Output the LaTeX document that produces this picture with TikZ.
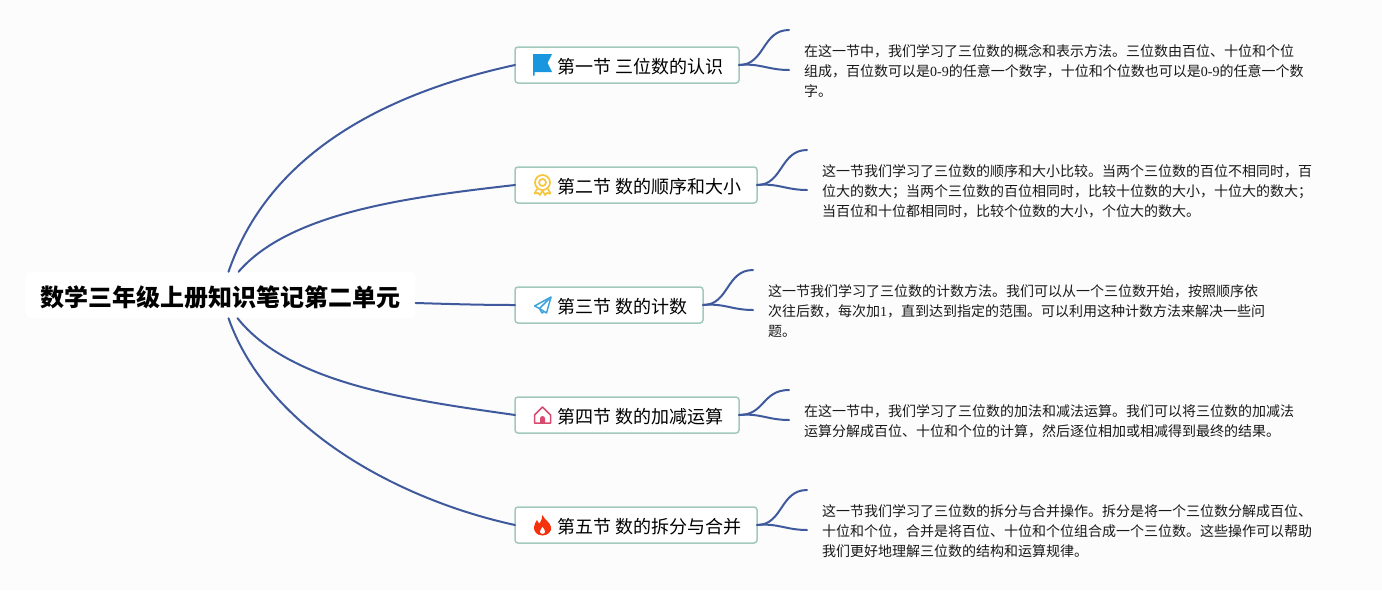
\documentclass[tikz,border=0pt]{standalone}
\usepackage{fontspec}
\setmainfont{Noto Sans CJK SC}
\newfontfamily\serifdigit{Liberation Serif}
\definecolor{bgcol}{HTML}{FCFCFD}
\definecolor{linecol}{HTML}{3F5A9C}
\definecolor{boxcol}{HTML}{A3C9BF}
\definecolor{flagcol}{HTML}{1A96DE}
\definecolor{medalcol}{HTML}{F7C53C}
\definecolor{planecol}{HTML}{3FA5DC}
\definecolor{housecol}{HTML}{D94A70}
\definecolor{flamecol}{HTML}{F5320C}
\tikzset{
  rootbox/.style={fill=white,rounded corners=6pt,minimum width=390pt,minimum height=46pt,inner sep=0pt,text height=22pt,text depth=0pt,font=\fontsize{24}{28}\selectfont\bfseries},
  secbox/.style={draw=boxcol,line width=1.5pt,fill=white,rounded corners=3pt,anchor=west,outer sep=0pt,minimum height=36pt,inner xsep=16pt,inner ysep=0pt,text height=16.5pt,text depth=0pt,font=\fontsize{18}{22}\selectfont},
  notetext/.style={anchor=west,align=left,inner sep=0pt,text=black!90,font=\fontsize{14}{20}\selectfont},
  link/.style={draw=linecol,line width=2pt,line cap=round},
}
\begin{document}
\begin{tikzpicture}[x=1pt,y=-1pt]
% 背景
\fill[bgcol] (0,0) rectangle (1382,590);
\useasboundingbox (0,0) rectangle (1382,590);
% 中心主题
\node[rootbox] (root) at (220.5,295) {数学三年级上册知识笔记第二单元};
% 五个小节
\node[secbox] (sec1) at (515,65) {\hspace*{26pt}第一节 三位数的认识};
\node[secbox] (sec2) at (515,185) {\hspace*{26pt}第二节 数的顺序和大小};
\node[secbox] (sec3) at (515,305) {\hspace*{26pt}第三节 数的计数};
\node[secbox] (sec4) at (515,415) {\hspace*{26pt}第四节 数的加减运算};
\node[secbox] (sec5) at (515,525) {\hspace*{26pt}第五节 数的拆分与合并};
% 说明文字
\node[notetext] (note1) at (804,71.2) {在这一节中，我们学习了三位数的概念和表示方法。三位数由百位、十位和个位\\组成，百位数可以是{\serifdigit 0-9}的任意一个数字，十位和个位数也可以是{\serifdigit 0-9}的任意一个数\\字。};
\node[notetext] (note2) at (822,191.2) {这一节我们学习了三位数的顺序和大小比较。当两个三位数的百位不相同时，百\\位大的数大；当两个三位数的百位相同时，比较十位数的大小，十位大的数大；\\当百位和十位都相同时，比较个位数的大小，个位大的数大。};
\node[notetext] (note3) at (768,311.2) {这一节我们学习了三位数的计数方法。我们可以从一个三位数开始，按照顺序依\\次往后数，每次加{\serifdigit 1}，直到达到指定的范围。可以利用这种计数方法来解决一些问\\题。};
\node[notetext] (note4) at (804,421.2) {在这一节中，我们学习了三位数的加法和减法运算。我们可以将三位数的加减法\\运算分解成百位、十位和个位的计算，然后逐位相加或相减得到最终的结果。};
\node[notetext] (note5) at (822,531.2) {这一节我们学习了三位数的拆分与合并操作。拆分是将一个三位数分解成百位、\\十位和个位，合并是将百位、十位和个位组合成一个三位数。这些操作可以帮助\\我们更好地理解三位数的结构和运算规律。};
% 中心到小节
\coordinate (rootA) at ([xshift=8pt]root.north);
\coordinate (rootB) at ([xshift=18pt]root.north);
\coordinate (rootC) at ([xshift=17pt]root.south);
\coordinate (rootD) at ([xshift=8pt]root.south);
\draw[link] (rootA) .. controls (272,145) and (400,90) .. (sec1.west);
\draw[link] (rootB) .. controls (290,212) and (410,197) .. (sec2.west);
\draw[link] (root.east) ++(0,8) .. controls (450,304) and (480,305) .. (sec3.west);
\draw[link] (rootC) .. controls (290,384) and (410,400) .. (sec4.west);
\draw[link] (rootD) .. controls (268,430) and (400,500) .. (sec5.west);
% 小节到说明
\coordinate (top1) at (789,30);
\coordinate (low1) at (789,70);
\draw[link] (sec1.east) .. controls (765,65) and (762,30) .. (top1);
\draw[link] (sec1.east) .. controls (760,63) and (768,70) .. (low1);
\coordinate (top2) at (807,150);
\coordinate (low2) at (807,190);
\draw[link] (sec2.east) .. controls (783,185) and (780,150) .. (top2);
\draw[link] (sec2.east) .. controls (778,183) and (786,190) .. (low2);
\coordinate (top3) at (753,270);
\coordinate (low3) at (753,310);
\draw[link] (sec3.east) .. controls (729,305) and (726,270) .. (top3);
\draw[link] (sec3.east) .. controls (724,303) and (732,310) .. (low3);
\coordinate (top4) at (789,390);
\coordinate (low4) at (789,420);
\draw[link] (sec4.east) .. controls (765,415) and (762,390) .. (top4);
\draw[link] (sec4.east) .. controls (760,413) and (768,420) .. (low4);
\coordinate (top5) at (807,490);
\coordinate (low5) at (807,530);
\draw[link] (sec5.east) .. controls (783,525) and (780,490) .. (top5);
\draw[link] (sec5.east) .. controls (778,523) and (786,530) .. (low5);
% 旗
\fill[flagcol] (533,54) -- (552,54) -- (547.5,63) -- (552,72) -- (534.5,72) -- (534.5,75.5) -- (533,75.5) -- cycle;
% 奖章
\draw[medalcol,line width=1.7pt] (542.5,182.5) circle (7.5);
\draw[medalcol,line width=1.7pt] (542.5,182.5) circle (3.5);
\draw[medalcol,line width=1.7pt,line join=round] (537,189) -- (534.5,193.5) -- (538,193) -- (540,195) -- (542.5,190.5) -- (545,195) -- (547,193) -- (550.5,193.5) -- (548,189);
% 纸飞机
\draw[planecol,line width=1.5pt,line join=round] (551,297) -- (534.5,306) -- (539.5,308.5) -- cycle;
\draw[planecol,line width=1.5pt,line join=round] (551,297) -- (546.5,313) -- (539.5,308.5);
\draw[planecol,line width=1.5pt,line join=round] (539.5,308.5) -- (542,313) -- (544,311.5);
% 房子
\draw[housecol,line width=1.5pt,line join=round] (534.5,415) -- (542.5,407) -- (550.5,415) -- (550.5,423) -- (534.5,423) -- cycle;
\fill[housecol] (540,423) -- (540,418.5) arc[start angle=180,end angle=360,radius=2.5] -- (545,423) -- cycle;
% 火焰
\fill[flamecol] (542.5,515) .. controls (544.5,520) and (550,522) .. (551,527) .. controls (552,532) and (547,535.5) .. (542.5,535.5) .. controls (537,535.5) and (533.5,531.5) .. (534,527) .. controls (534.2,524) and (536,522) .. (537,520) .. controls (538,522) and (538.5,523) .. (539.5,523.5) .. controls (541,521) and (542.5,518) .. (542.5,515) -- cycle;
\fill[white] (542.5,527) .. controls (543.5,528.5) and (545.2,530) .. (545,531.8) .. controls (544.8,533.3) and (543.7,533.8) .. (542.5,533.8) .. controls (541.3,533.8) and (540.2,533.2) .. (540,531.8) .. controls (539.8,530) and (541.8,528.5) .. (542.5,527) -- cycle;
\end{tikzpicture}
\end{document}
